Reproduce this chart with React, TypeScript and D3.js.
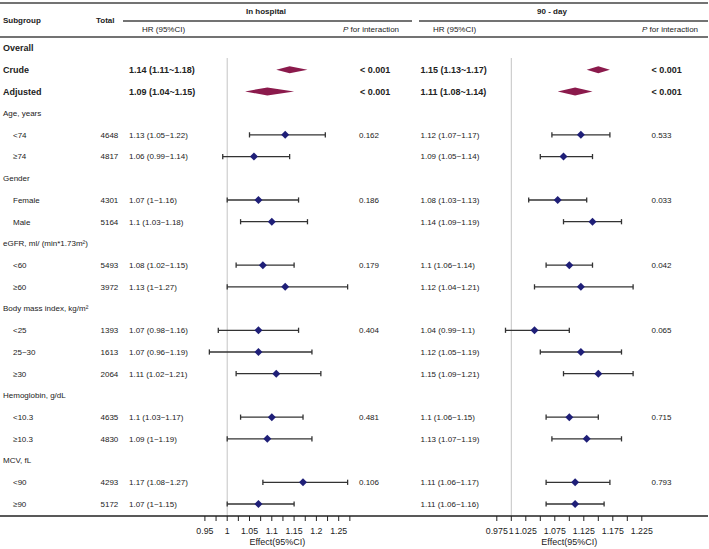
import React from "react";
import * as d3 from "d3";

const labels = ["Overall","Crude","Adjusted","Age, years","<74","≥74","Gender","Female","Male","eGFR, ml/ (min*1.73m²)","<60","≥60","Body mass index, kg/m²","<25","25~30","≥30","Hemoglobin, g/dL","<10.3","≥10.3","MCV, fL","<90","≥90"];
const kinds = ["bold","bold","bold","group","sub","sub","group","sub","sub","group","sub","sub","group","sub","sub","sub","group","sub","sub","group","sub","sub"];
const totals = ["","","","","4648","4817","","4301","5164","","5493","3972","","1393","1613","2064","","4635","4830","","4293","5172"];

const hospHR = [null,1.14,1.09,null,1.13,1.06,null,1.07,1.1,null,1.08,1.13,null,1.07,1.07,1.11,null,1.1,1.09,null,1.17,1.07];
const hospLo = [null,1.11,1.04,null,1.05,0.99,null,1.0,1.03,null,1.02,1.0,null,0.98,0.96,1.02,null,1.03,1.0,null,1.08,1.0];
const hospHi = [null,1.18,1.15,null,1.22,1.14,null,1.16,1.18,null,1.15,1.27,null,1.16,1.19,1.21,null,1.17,1.19,null,1.27,1.15];
const hospText = ["","1.14 (1.11~1.18)","1.09 (1.04~1.15)","","1.13 (1.05~1.22)","1.06 (0.99~1.14)","","1.07 (1~1.16)","1.1 (1.03~1.18)","","1.08 (1.02~1.15)","1.13 (1~1.27)","","1.07 (0.98~1.16)","1.07 (0.96~1.19)","1.11 (1.02~1.21)","","1.1 (1.03~1.17)","1.09 (1~1.19)","","1.17 (1.08~1.27)","1.07 (1~1.15)"];
const hospP = ["","< 0.001","< 0.001","","0.162","","","0.186","","","0.179","","","0.404","","","","0.481","","","0.106",""];

const dayHR = [null,1.15,1.11,null,1.12,1.09,null,1.08,1.14,null,1.1,1.12,null,1.04,1.12,1.15,null,1.1,1.13,null,1.11,1.11];
const dayLo = [null,1.13,1.08,null,1.07,1.05,null,1.03,1.09,null,1.06,1.04,null,0.99,1.05,1.09,null,1.06,1.07,null,1.06,1.06];
const dayHi = [null,1.17,1.14,null,1.17,1.14,null,1.13,1.19,null,1.14,1.21,null,1.1,1.19,1.21,null,1.15,1.19,null,1.17,1.16];
const dayText = ["","1.15 (1.13~1.17)","1.11 (1.08~1.14)","","1.12 (1.07~1.17)","1.09 (1.05~1.14)","","1.08 (1.03~1.13)","1.14 (1.09~1.19)","","1.1 (1.06~1.14)","1.12 (1.04~1.21)","","1.04 (0.99~1.1)","1.12 (1.05~1.19)","1.15 (1.09~1.21)","","1.1 (1.06~1.15)","1.13 (1.07~1.19)","","1.11 (1.06~1.17)","1.11 (1.06~1.16)"];
const dayP = ["","< 0.001","< 0.001","","0.533","","","0.033","","","0.042","","","0.065","","","","0.715","","","0.793",""];

const leftTicks = [0.95,0.975,1,1.025,1.05,1.075,1.1,1.125,1.15,1.175,1.2,1.225,1.25,1.275];
const leftTickLabels = ["0.95","1","1.05","1.1","1.15","1.2","1.25"];
const rightTicks = [0.975,1,1.025,1.05,1.075,1.1,1.125,1.15,1.175,1.2,1.225];
const rightTickLabels = ["0.975","1","1.025","1.075","1.125","1.175","1.225"];

const FONT = "Arial, 'Liberation Sans', Helvetica, sans-serif";
const TXT = "#222";
const MAROON = "#8b1a4c";
const NAVY = "#1f1f78";

export default function App() {
  const W = 709, H = 549;
  const xL = d3.scaleLinear().domain([1, 1.25]).range([227.2, 338.7]);
  const xR = d3.scaleLinear().domain([1, 1.225]).range([511.3, 641.8]);
  const y = d3.scaleLinear().domain([0, 21]).range([48, 504]);
  const axisY = 516;

  const forest = (x: d3.ScaleLinear<number, number>, hr: (number|null)[], lo: (number|null)[], hi: (number|null)[], key: string) =>
    hr.map((v, i) => {
      if (v == null) return null;
      const cy = y(i);
      const l = x(lo[i] as number), h = x(hi[i] as number), c = x(v);
      if (kinds[i] === "bold") {
        const hh = i === 1 ? 3.5 : 4;
        return <polygon key={key + i} points={`${l},${cy} ${c},${cy - hh} ${h},${cy} ${c},${cy + hh}`} fill={MAROON} />;
      }
      return (
        <g key={key + i}>
          <line x1={l} x2={h} y1={cy} y2={cy} stroke="#333" strokeWidth={1.3} />
          <line x1={l} x2={l} y1={cy - 2.6} y2={cy + 2.6} stroke="#333" strokeWidth={1.3} />
          <line x1={h} x2={h} y1={cy - 2.6} y2={cy + 2.6} stroke="#333" strokeWidth={1.3} />
          <polygon points={`${c - 4},${cy} ${c},${cy - 4} ${c + 4},${cy} ${c},${cy + 4}`} fill={NAVY} />
        </g>
      );
    });

  const txt = (x: number, yy: number, s: string, size: number, bold = false, anchor = "start", key?: string) => (
    <text key={key} x={x} y={yy} dy="0.35em" fontSize={size} fontWeight={bold ? "bold" : "normal"} textAnchor={anchor} fill={TXT} fontFamily={FONT}>{s}</text>
  );

  const lMid = (leftTicks[0] + leftTicks[leftTicks.length - 1]) / 2;
  const rMid = (rightTicks[0] + rightTicks[rightTicks.length - 1]) / 2;

  return (
    <svg width={W} height={H} style={{ position: "absolute", left: 0, top: 0, background: "#fff" }}>
      {/* header lines */}
      <line x1={0} x2={708} y1={3} y2={3} stroke="#444" strokeWidth={1.5} />
      <line x1={123} x2={412} y1={21} y2={21} stroke="#444" strokeWidth={1.5} />
      <line x1={419} x2={708} y1={21} y2={21} stroke="#444" strokeWidth={1.5} />
      <line x1={0} x2={708} y1={37} y2={37} stroke="#444" strokeWidth={1.5} />
      {txt(3, 20, "Subgroup", 8, true)}
      {txt(96, 20, "Total", 8, true)}
      {txt(266, 11, "In hospital", 8, true, "middle")}
      {txt(552, 11, "90 - day", 8, true, "middle")}
      {txt(142, 29, "HR (95%CI)", 8)}
      {txt(433, 29, "HR (95%CI)", 8)}
      <text x={343} y={29} dy="0.35em" fontSize={8} fill={TXT} fontFamily={FONT}><tspan fontStyle="italic">P</tspan> for interaction</text>
      <text x={642} y={29} dy="0.35em" fontSize={8} fill={TXT} fontFamily={FONT}><tspan fontStyle="italic">P</tspan> for interaction</text>

      {/* reference lines */}
      <line x1={xL(1)} x2={xL(1)} y1={58} y2={axisY} stroke="#c4c4c4" strokeWidth={1} />
      <line x1={xR(1)} x2={xR(1)} y1={58} y2={axisY} stroke="#c4c4c4" strokeWidth={1} />

      {/* rows */}
      {labels.map((lab, i) => {
        const cy = y(i);
        const k = kinds[i];
        const bold = k === "bold";
        const size = bold ? 9 : 8;
        return (
          <g key={"r" + i}>
            {txt(k === "sub" ? 13 : 3, cy, lab, size, bold)}
            {totals[i] && txt(100.5, cy, totals[i], 8)}
            {hospText[i] && txt(129, cy, hospText[i], size, bold)}
            {hospP[i] && txt(bold ? 360 : 359, cy, hospP[i], size, bold)}
            {dayText[i] && txt(420.5, cy, dayText[i], size, bold)}
            {dayP[i] && txt(651.5, cy, dayP[i], size, bold)}
          </g>
        );
      })}

      {forest(xL, hospHR, hospLo, hospHi, "h")}
      {forest(xR, dayHR, dayLo, dayHi, "d")}

      {/* axis */}
      <line x1={0} x2={708} y1={axisY} y2={axisY} stroke="#222" strokeWidth={1.3} />
      {leftTicks.map((t) => (
        <line key={"lt" + t} x1={xL(t)} x2={xL(t)} y1={axisY} y2={axisY + 5} stroke="#222" strokeWidth={1} />
      ))}
      {leftTickLabels.map((t) => txt(xL(+t), 531, t, 8.8, false, "middle", "ll" + t))}
      {rightTicks.map((t) => (
        <line key={"rt" + t} x1={xR(t)} x2={xR(t)} y1={axisY} y2={axisY + 5} stroke="#222" strokeWidth={1} />
      ))}
      {rightTickLabels.map((t) => txt(xR(+t), 531, t, 8.8, false, "middle", "rl" + t))}
      {txt(xL(lMid), 542, "Effect(95%CI)", 9, false, "middle")}
      {txt(xR(rMid), 542, "Effect(95%CI)", 9, false, "middle")}
    </svg>
  );
}
